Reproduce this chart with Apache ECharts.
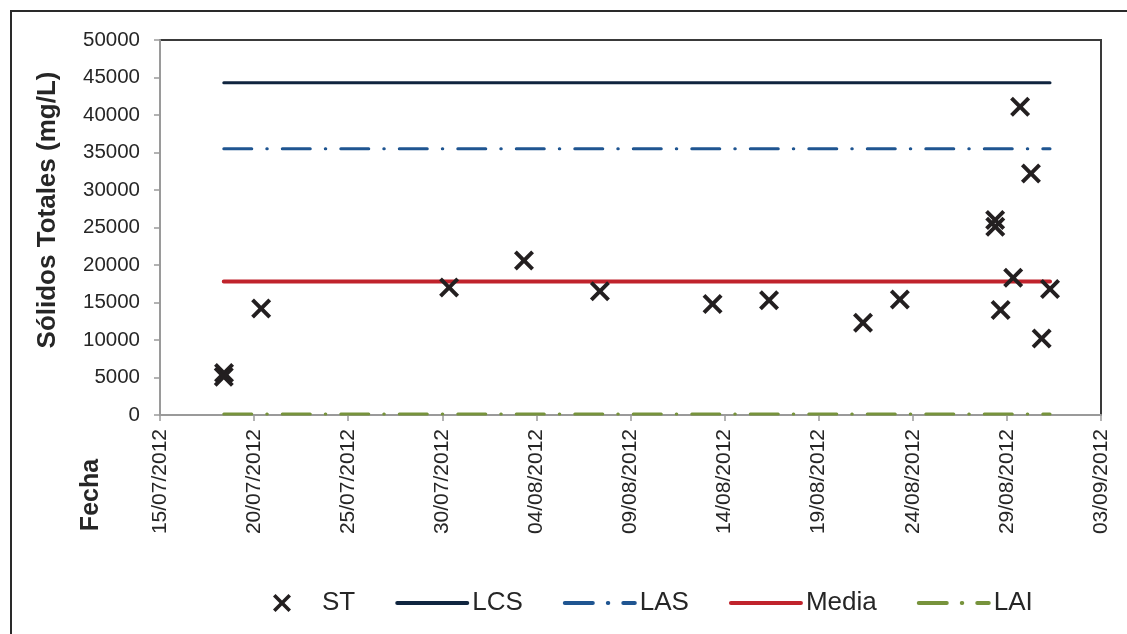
<!DOCTYPE html>
<html>
<head>
<meta charset="utf-8">
<script src="https://cdn.jsdelivr.net/npm/echarts@6/dist/echarts.min.js"></script>
<style>
  html, body { margin: 0; padding: 0; background: #ffffff; }
  #chart { width: 1127px; height: 634px; }
</style>
</head>
<body>
<div id="chart"></div>
<script>
// Sampling dates/times and total solids (mg/L)
const sampleTimes = [
  '2012-07-18T09:40', '2012-07-18T09:20', '2012-07-20T09:00', '2012-07-30T08:40',
  '2012-08-03T08:10', '2012-08-07T09:00', '2012-08-13T08:40', '2012-08-16T08:40',
  '2012-08-21T08:30', '2012-08-23T07:30', '2012-08-28T09:00', '2012-08-28T09:10',
  '2012-08-28T16:00', '2012-08-29T08:00', '2012-08-29T16:50', '2012-08-30T06:40',
  '2012-08-30T20:20', '2012-08-31T07:00'
];
const stValues = [
  5600, 5100, 14200, 17000,
  20600, 16500, 14800, 15300,
  12300, 15400, 26000, 25100,
  14000, 18300, 41100, 32200,
  10200, 16800
];

// Control limits and mean (mg/L)
const LCS = 44300;   // límite de control superior
const LAS = 35500;   // límite de advertencia superior
const MEDIA = 17800; // media
const LAI = 150;     // límite de advertencia inferior

// Axis extents
const xStart = '2012-07-15';
const xEnd = '2012-09-03';
const xStepDays = 5;
const yMin = 0, yMax = 50000, yStep = 5000;

// Spreadsheet-style serial day numbers (1 = 01/01/1900)
const SERIAL_EPOCH = Date.UTC(1899, 11, 30);
function toSerial(s) {
  const [d, t] = s.split('T');
  const [Y, M, D] = d.split('-').map(Number);
  let h = 0, m = 0;
  if (t) { [h, m] = t.split(':').map(Number); }
  return (Date.UTC(Y, M - 1, D, h, m) - SERIAL_EPOCH) / 86400000;
}
function serialLabel(v) {
  const dt = new Date(SERIAL_EPOCH + Math.round(v) * 86400000);
  const dd = String(dt.getUTCDate()).padStart(2, '0');
  const mm = String(dt.getUTCMonth() + 1).padStart(2, '0');
  return dd + '/' + mm + '/' + dt.getUTCFullYear();
}

const xs = sampleTimes.map(toSerial);
const stData = xs.map((x, i) => [x, stValues[i]]);
const sortedX = xs.slice().sort((a, b) => a - b);
const limitLine = v => sortedX.map(x => [x, v]);

const FONT = "'Liberation Sans', Arial, sans-serif";
const CROSS = 'path://M0,1.4L1.4,0L5,3.6L8.6,0L10,1.4L6.4,5L10,8.6L8.6,10L5,6.4L1.4,10L0,8.6L3.6,5Z';
const DASH_DOT = [28, 15, 0.5, 15];
const NO_MARK = { opacity: 0 };

const chart = echarts.init(document.getElementById('chart'), null, { renderer: 'canvas' });
chart.setOption({
  animation: false,
  backgroundColor: '#ffffff',
  textStyle: { fontFamily: FONT },
  grid: {
    left: 160, right: 26, top: 40, bottom: 219,
    show: true, borderColor: '#3a3a3a', borderWidth: 2, backgroundColor: 'transparent'
  },
  xAxis: {
    type: 'value',
    min: toSerial(xStart), max: toSerial(xEnd), interval: xStepDays,
    axisLine: { show: true, onZero: false, lineStyle: { color: '#9a9a9a', width: 2 } },
    axisTick: { show: true, inside: false, length: 6, lineStyle: { color: '#9a9a9a', width: 1.5 } },
    splitLine: { show: false },
    axisLabel: {
      rotate: 90, margin: 14, color: '#262626', fontSize: 21, fontFamily: FONT,
      formatter: v => serialLabel(v), showMinLabel: true, showMaxLabel: true
    }
  },
  yAxis: {
    type: 'value', min: yMin, max: yMax, interval: yStep,
    axisLine: { show: true, lineStyle: { color: '#9a9a9a', width: 2 } },
    axisTick: { show: true, inside: false, length: 6, lineStyle: { color: '#9a9a9a', width: 1.5 } },
    splitLine: { show: false },
    axisLabel: {
      margin: 20, color: '#262626', fontSize: 20.5, fontFamily: FONT,
      formatter: v => String(v)
    }
  },
  legend: {
    data: [
      { name: 'ST', icon: CROSS },
      { name: 'LCS', itemStyle: NO_MARK },
      { name: 'LAS', itemStyle: NO_MARK },
      { name: 'Media', itemStyle: NO_MARK },
      { name: 'LAI', itemStyle: NO_MARK }
    ],
    left: 268, top: 585,
    itemWidth: 70, itemHeight: 18, itemGap: 40,
    symbolKeepAspect: true,
    lineStyle: { width: 4 },
    textStyle: { fontSize: 26, color: '#262626', fontFamily: FONT },
    selectedMode: false
  },
  graphic: [
    {
      type: 'rect', silent: true, z: -1,
      shape: { x: 11, y: 11, width: 1300, height: 800 },
      style: { fill: 'none', stroke: '#2a2a2a', lineWidth: 2 }
    },
    {
      type: 'text', x: 48, y: 210, rotation: Math.PI / 2,
      style: {
        text: 'Sólidos Totales (mg/L)', fill: '#262626',
        font: 'bold 26px ' + FONT, align: 'center', verticalAlign: 'middle'
      }
    },
    {
      type: 'text', x: 91, y: 495, rotation: Math.PI / 2,
      style: {
        text: 'Fecha', fill: '#262626',
        font: 'bold 25px ' + FONT, align: 'center', verticalAlign: 'middle'
      }
    }
  ],
  series: [
    {
      name: 'LAI', type: 'line', data: limitLine(LAI), symbol: 'none', clip: false,
      lineStyle: { color: '#77933c', width: 3, type: DASH_DOT, cap: 'round' },
      itemStyle: { color: '#77933c' }, z: 3
    },
    {
      name: 'Media', type: 'line', data: limitLine(MEDIA), symbol: 'none',
      lineStyle: { color: '#c0232c', width: 4, cap: 'round' },
      itemStyle: { color: '#c0232c' }, z: 3
    },
    {
      name: 'LAS', type: 'line', data: limitLine(LAS), symbol: 'none',
      lineStyle: { color: '#1f5591', width: 3, type: DASH_DOT, cap: 'round' },
      itemStyle: { color: '#1f5591' }, z: 3
    },
    {
      name: 'LCS', type: 'line', data: limitLine(LCS), symbol: 'none',
      lineStyle: { color: '#10253f', width: 3, cap: 'round' },
      itemStyle: { color: '#10253f' }, z: 3
    },
    {
      name: 'ST', type: 'scatter', data: stData,
      symbol: CROSS, symbolSize: 20,
      itemStyle: { color: '#231f20', opacity: 1 }, z: 5
    }
  ]
});
</script>
</body>
</html>
